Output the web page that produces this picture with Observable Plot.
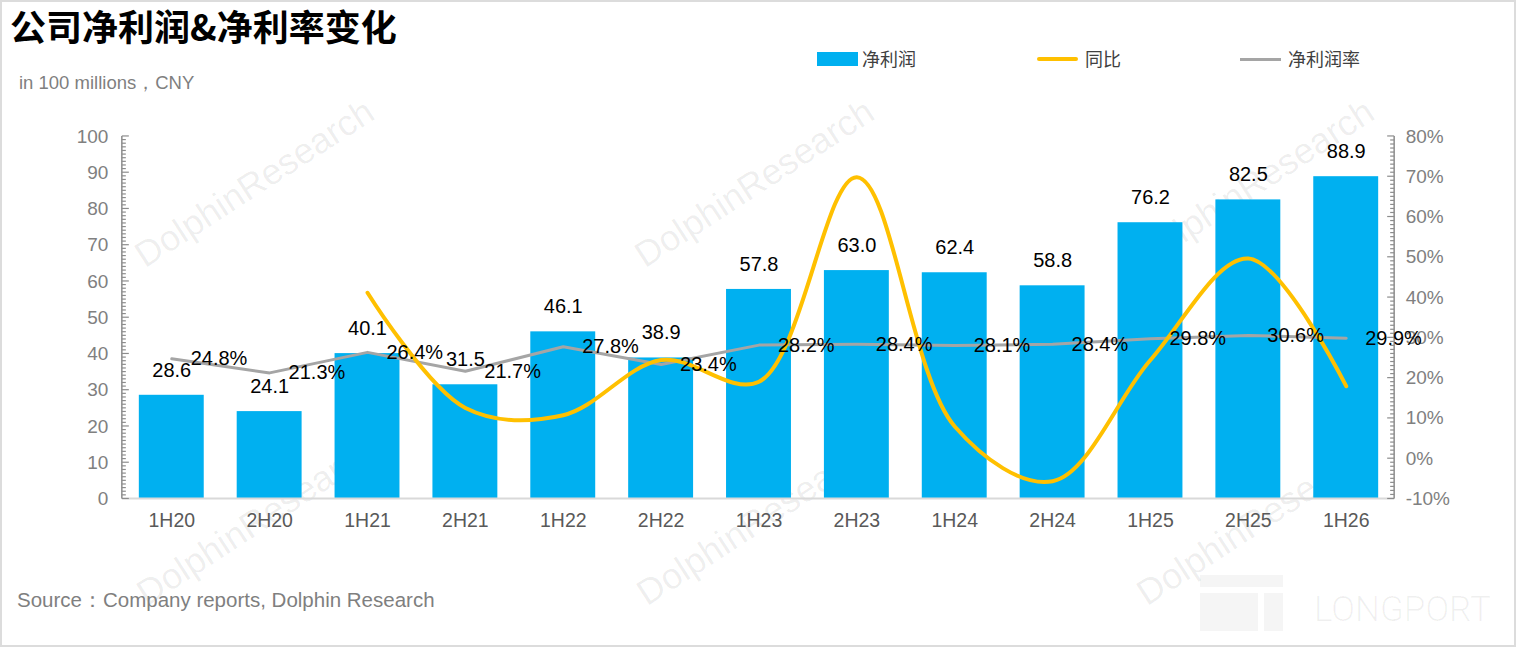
<!DOCTYPE html>
<html>
<head>
<meta charset="utf-8">
<script src="https://cdn.jsdelivr.net/npm/d3@7"></script>
<script src="https://cdn.jsdelivr.net/npm/@observablehq/plot@0.6"></script>
<style>
  html, body { margin: 0; padding: 0; background: #fff; }
  #wrap { position: relative; width: 1516px; height: 647px; box-sizing: border-box; border: 2px solid #dcdcdc; overflow: hidden; font-family: "Liberation Sans", Arial, sans-serif; }
  .abs { position: absolute; white-space: nowrap; }
  #title { left: 8px; top: 0px; line-height: 46px; font-family: "Noto Sans CJK SC", sans-serif; font-weight: 700; font-size: 36px; color: #000; }
  #sub { left: 17px; top: 68px; font-size: 18.5px; color: #7f7f7f; }
  #source { left: 15px; top: 584px; font-size: 20.5px; color: #7f7f7f; }
  .leg { font-family: "Noto Sans CJK SC", sans-serif; font-size: 18px; color: #404040; top: 43px; }
  .wm { font-family: "Liberation Sans", Arial, sans-serif; font-size: 36px; color: rgba(0,0,0,0.07); transform: rotate(-33deg); transform-origin: left bottom; }
  #chart { position: absolute; left: -2px; top: 98px; }
</style>
</head>
<body>
<div id="wrap">
  <div class="abs wm" style="left:148px;top:232px">DolphinResearch</div>
  <div class="abs wm" style="left:648px;top:232px">DolphinResearch</div>
  <div class="abs wm" style="left:1148px;top:232px">DolphinResearch</div>
  <div class="abs wm" style="left:150px;top:570px">DolphinResearch</div>
  <div class="abs wm" style="left:650px;top:570px">DolphinResearch</div>
  <div class="abs wm" style="left:1150px;top:570px">DolphinResearch</div>
  <div class="abs" style="left:1198px;top:573px;width:83px;height:12px;background:rgba(0,0,0,0.04)"></div>
  <div class="abs" style="left:1198px;top:591px;width:58px;height:38px;background:rgba(0,0,0,0.04)"></div>
  <div class="abs" style="left:1262px;top:591px;width:19px;height:38px;background:rgba(0,0,0,0.04)"></div>
  <div class="abs" style="left:1312px;top:587px;font-family:Roboto,sans-serif;font-weight:300;font-size:35px;color:rgba(0,0,0,0.06)">LONGPORT</div>

  <div id="title" class="abs">公司净利润&amp;净利率变化</div>
  <div id="sub" class="abs">in 100 millions，CNY</div>

  <div class="abs" style="left:815px;top:50px;width:41px;height:14px;background:#00B0F0"></div>
  <div class="abs leg" style="left:860px">净利润</div>
  <div class="abs" style="left:1035px;top:55px;width:41px;height:4px;border-radius:2px;background:#FFC000"></div>
  <div class="abs leg" style="left:1083px">同比</div>
  <div class="abs" style="left:1238px;top:56px;width:41px;height:3px;background:#A5A5A5"></div>
  <div class="abs leg" style="left:1286px">净利润率</div>

  <div id="chart"></div>
  <div id="source" class="abs">Source：Company reports, Dolphin Research</div>
</div>
<script>
const periods = ["1H20","2H20","1H21","2H21","1H22","2H22","1H23","2H23","1H24","2H24","1H25","2H25","1H26"];
const netProfit = [28.6, 24.1, 40.1, 31.5, 46.1, 38.9, 57.8, 63.0, 62.4, 58.8, 76.2, 82.5, 88.9];
const yoyPct = [null, null, 41.2, 12.6, 10.8, 24.5, 19.1, 69.9, 8.0, -5.6, 24.5, 49.7, 18.0];
const marginPct = [24.8, 21.3, 26.4, 21.7, 27.8, 23.4, 28.2, 28.4, 28.1, 28.4, 29.8, 30.6, 29.9];
const leftTicks = [0, 10, 20, 30, 40, 50, 60, 70, 80, 90, 100];
const rightTicks = [-10, 0, 10, 20, 30, 40, 50, 60, 70, 80];

// right axis (-10%..80%) mapped onto left axis (0..100)
const toLeft = p => (p + 10) * 100 / 90;
const fromLeft = v => Math.round(v * 0.9 - 10);

const rows = periods.map((p, i) => ({
  period: p,
  profit: netProfit[i],
  yoy: yoyPct[i] == null ? null : toLeft(yoyPct[i]),
  margin: toLeft(marginPct[i]),
  marginLabel: marginPct[i].toFixed(1) + "%"
}));

function axesMark(index, scales, values, dims) {
  const g = d3.create("svg:g");
  const y = scales.y;
  const xl = dims.marginLeft, xr = dims.width - dims.marginRight;
  const axisColor = "#8c8c8c";
  g.append("line").attr("x1", xl).attr("x2", xr).attr("y1", y(0)).attr("y2", y(0))
    .attr("stroke", "#d9d9d9").attr("stroke-width", 2);
  g.append("line").attr("x1", xl).attr("x2", xl).attr("y1", y(0)).attr("y2", y(100))
    .attr("stroke", axisColor).attr("stroke-width", 1.5);
  g.append("line").attr("x1", xr).attr("x2", xr).attr("y1", y(0)).attr("y2", y(100))
    .attr("stroke", axisColor).attr("stroke-width", 1.5);
  for (let v = 0; v <= 100; v += 1) {
    const len = v % 10 === 0 ? 7 : 4;
    g.append("line").attr("x1", xl).attr("x2", xl + len).attr("y1", y(v)).attr("y2", y(v))
      .attr("stroke", axisColor).attr("stroke-width", 1.2);
  }
  for (let p = -10; p <= 80; p += 1) {
    const len = p % 10 === 0 ? 7 : 4;
    const yy = y(toLeft(p));
    g.append("line").attr("x1", xr).attr("x2", xr - len).attr("y1", yy).attr("y2", yy)
      .attr("stroke", axisColor).attr("stroke-width", 1.2);
  }
  return g.node();
}

const chart = Plot.plot({
  width: 1516,
  height: 460,
  marginTop: 36,
  marginBottom: 61,
  marginLeft: 122,
  marginRight: 120,
  style: { fontFamily: "'Liberation Sans', Arial, sans-serif", fontSize: "19px", background: "transparent", overflow: "visible" },
  x: { type: "band", domain: periods, paddingInner: 0.34, paddingOuter: 0.17, label: null },
  y: { domain: [0, 100], label: null },
  marks: [
    Plot.barY(rows, { x: "period", y: "profit", fill: "#00B0F0" }),
    axesMark,
    Plot.axisY({ anchor: "left", ticks: leftTicks, tickSize: 0, tickPadding: 14, fill: "#808080", fontSize: 19, label: null }),
    Plot.axisY({ anchor: "right", ticks: rightTicks.map(toLeft), tickFormat: v => fromLeft(v) + "%", tickSize: 0, tickPadding: 11, fill: "#808080", fontSize: 19, label: null }),
    Plot.axisX({ tickSize: 0, tickPadding: 14, fill: "#595959", fontSize: 19.5, label: null }),
    Plot.line(rows, { x: "period", y: "margin", stroke: "#A5A5A5", strokeWidth: 3 }),
    Plot.line(rows.filter(d => d.yoy != null), { x: "period", y: "yoy", stroke: "#FFC000", strokeWidth: 4, curve: "catmull-rom" }),
    Plot.text(rows, { x: "period", y: "profit", text: d => d.profit.toFixed(1), dy: -25, fontSize: 20, fill: "#000" }),
    Plot.text(rows, { x: "period", y: "margin", text: "marginLabel", dx: 19, textAnchor: "start", fontSize: 20, fill: "#000" })
  ]
});
document.getElementById("chart").appendChild(chart);
</script>
</body>
</html>
